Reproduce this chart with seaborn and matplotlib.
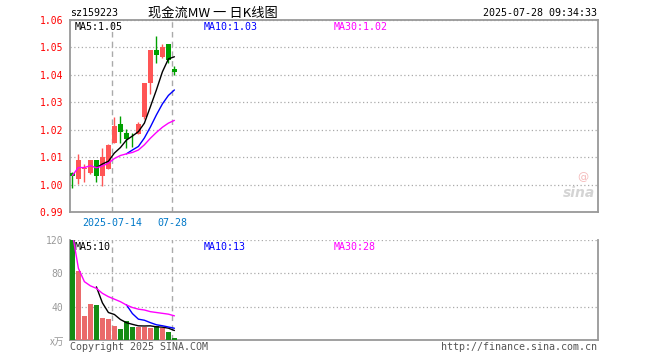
"""Sina style daily K-line chart for sz159223"""
import numpy as np
import pandas as pd
import matplotlib
matplotlib.use('Agg')
import matplotlib.pyplot as plt
import seaborn as sns

#Data
dates = ['07-03', '07-04', '07-07', '07-08', '07-09', '07-10', '07-11', '07-14', '07-15',
         '07-16', '07-17', '07-18', '07-21', '07-22', '07-23', '07-24', '07-25', '07-28']
open_px = [1.0043, 1.0021, 1.0055, 1.0043, 1.0091, 1.0030, 1.0058, 1.0152, 1.0221,
           1.0189, 1.0175, 1.0184, 1.0245, 1.0372, 1.0491, 1.0465, 1.0513, 1.0421]
close_px = [1.0033, 1.0091, 1.0061, 1.0091, 1.0030, 1.0101, 1.0146, 1.0213, 1.0193,
            1.0165, 1.0172, 1.0221, 1.0370, 1.0491, 1.0473, 1.0501, 1.0455, 1.0412]
high_px = [1.0045, 1.0111, 1.0075, 1.0091, 1.0091, 1.0135, 1.0148, 1.0245, 1.0250,
           1.0201, 1.0189, 1.0229, 1.0370, 1.0491, 1.0543, 1.0513, 1.0513, 1.0433]
low_px = [0.9988, 1.0001, 1.0010, 1.0038, 1.0010, 0.9995, 1.0055, 1.0150, 1.0150,
          1.0132, 1.0138, 1.0184, 1.0238, 1.0330, 1.0443, 1.0461, 1.0443, 1.0400]

ma5 = [np.nan] * 4 + [1.0061, 1.0075, 1.0085, 1.0115, 1.0135, 1.0162, 1.0177, 1.0193,
                      1.0224, 1.0284, 1.0345, 1.0411, 1.0458, 1.0466]
ma10 = [np.nan] * 9 + [1.0112, 1.0126, 1.0139, 1.0170, 1.0210, 1.0254, 1.0294, 1.0325, 1.0345]
ma30 = [1.0033, 1.0062, 1.0062, 1.0069, 1.0061, 1.0068, 1.0078, 1.0095, 1.0106,
        1.0112, 1.0117, 1.0126, 1.0145, 1.0169, 1.0190, 1.0209, 1.0224, 1.0234]

volume = [128, 83, 29, 43, 42, 26, 25, 17, 13, 23, 16, 16, 16, 14, 17, 14, 10, 2]
vol_ma5 = [np.nan] * 4 + [63.8, 44.6, 33, 30.6, 24.6, 20.8, 18.8, 17, 16.8, 17, 15.8,
                          15.4, 14.2, 11.4]
vol_ma10 = [np.nan] * 9 + [42.3, 31.7, 25, 23.7, 20.8, 18.3, 17.1, 15.6, 14.1]
vol_ma30 = [128, 86, 70, 65, 62, 56, 52, 49, 46, 42, 39, 37, 36, 34, 33, 32, 31, 29]

price_ticks = [0.99, 1.00, 1.01, 1.02, 1.03, 1.04, 1.05, 1.06]
vol_ticks = [40, 80, 120]

RED = '#ff5555'
GREEN = '#00a000'
GRID = '#aaaaaa'
FRAME = '#999999'

sns.set_style('white')
plt.rcParams['font.family'] = ['DejaVu Sans Mono', 'Noto Sans CJK SC']

df = pd.DataFrame({'date': dates, 'open': open_px, 'close': close_px,
                   'high': high_px, 'low': low_px, 'volume': volume,
                   'ma5': ma5, 'ma10': ma10, 'ma30': ma30,
                   'vma5': vol_ma5, 'vma10': vol_ma10, 'vma30': vol_ma30})
df['x'] = np.arange(len(df))
df['up'] = np.where(df['close'] >= df['open'], 'up', 'down')
palette = {'up': RED, 'down': GREEN}

fig = plt.figure(figsize=(6.6, 3.6), dpi=100)
ax1 = fig.add_axes([70 / 660, 1 - 212 / 360, 528 / 660, 192 / 360])
ax2 = fig.add_axes([70 / 660, 1 - 340 / 360, 528 / 660, 100 / 360])

xlim = (-0.4, 87.6)
dash_x = [df.index[df['date'] == d][0] - 0.33 for d in ['07-14', '07-28']]

#Price panel: candles
colors = [palette[u] for u in df['up']]
ax1.vlines(df['x'], df['low'], df['high'], colors=colors, linewidth=1, zorder=3)
body_bottom = np.minimum(df['open'], df['close'])
body_height = np.maximum(np.abs(df['close'] - df['open']), 0.00015)
ax1.bar(df['x'], body_height, bottom=body_bottom, width=0.75, color=colors,
        linewidth=0, zorder=4)

#Moving averages
for col, c in [('ma5', 'black'), ('ma10', '#0000ff'), ('ma30', '#ff00ff')]:
    sns.lineplot(data=df, x='x', y=col, color=c, linewidth=1, ax=ax1, zorder=5)

ax1.set_xlim(*xlim)
ax1.set_ylim(0.99, 1.06)
ax1.set_yticks(price_ticks)
ax1.set_yticklabels([f'{t:.2f}' for t in price_ticks])
ax1.tick_params(axis='y', length=0, pad=5, labelsize=7, labelcolor='#ff0000')
ax1.set_xticks(dash_x)
ax1.set_xticklabels(['2025-07-14', '07-28'])
ax1.tick_params(axis='x', length=0, pad=4, labelsize=7.2, labelcolor='#0078c8')
ax1.set_xlabel('')
ax1.set_ylabel('')
ax1.grid(axis='y', color=GRID, linestyle=(0, (1, 2)), linewidth=0.9)
ax1.grid(axis='x', visible=False)
for x in dash_x:
    ax1.axvline(x, color=GRID, linestyle=(0, (4, 3)), linewidth=1, zorder=1)
for s in ax1.spines.values():
    s.set_color(FRAME)
    s.set_linewidth(1.3)

ax1.text(0.008, 0.965, 'MA5:1.05', transform=ax1.transAxes, fontsize=7.2,
         color='black', va='center')
ax1.text(0.254, 0.965, 'MA10:1.03', transform=ax1.transAxes, fontsize=7.2,
         color='#0000ff', va='center')
ax1.text(0.500, 0.965, 'MA30:1.02', transform=ax1.transAxes, fontsize=7.2,
         color='#ff00ff', va='center')
ax1.text(0.995, 0.06, 'sina', transform=ax1.transAxes, fontsize=10,
         color='#d4d4d4', ha='right', va='bottom', style='italic',
         fontweight='bold', family='DejaVu Sans')
ax1.text(0.982, 0.155, '@', transform=ax1.transAxes, fontsize=8,
         color='#f4b8b8', ha='right', va='bottom', family='DejaVu Sans')

#Volume panel
sns.barplot(data=df, x='x', y='volume', hue='up', palette=palette, dodge=False,
            width=0.75, native_scale=True, legend=False, linewidth=0, ax=ax2,
            zorder=3)
for col, c in [('vma5', 'black'), ('vma10', '#0000ff'), ('vma30', '#ff00ff')]:
    sns.lineplot(data=df, x='x', y=col, color=c, linewidth=1, ax=ax2, zorder=5)

ax2.set_xlim(*xlim)
ax2.set_ylim(0, 120)
ax2.set_yticks(vol_ticks)
ax2.set_yticklabels([str(t) for t in vol_ticks])
ax2.tick_params(axis='y', length=0, pad=5, labelsize=7, labelcolor='#999999')
ax2.set_xticks([])
ax2.set_xlabel('')
ax2.set_ylabel('')
ax2.grid(axis='y', color=GRID, linestyle=(0, (1, 2)), linewidth=0.9)
ax2.grid(axis='x', visible=False)
for x in dash_x:
    ax2.axvline(x, color=GRID, linestyle=(0, (4, 3)), linewidth=1, zorder=1)
ax2.spines['top'].set_visible(False)
for k in ['left', 'right', 'bottom']:
    ax2.spines[k].set_color(FRAME)
    ax2.spines[k].set_linewidth(1.3)

ax2.text(0.008, 0.93, 'MA5:10', transform=ax2.transAxes, fontsize=7.2,
         color='black', va='center')
ax2.text(0.254, 0.93, 'MA10:13', transform=ax2.transAxes, fontsize=7.2,
         color='#0000ff', va='center')
ax2.text(0.500, 0.93, 'MA30:28', transform=ax2.transAxes, fontsize=7.2,
         color='#ff00ff', va='center')

#Header and footer texts
fig.text(70 / 660, 1 - 13 / 360, 'sz159223', fontsize=7.2, color='black',
         va='center', ha='left')
fig.text(213 / 660, 1 - 13 / 360, '现金流MW 一 日K线图', fontsize=9.5, color='black',
         va='center', ha='center', family=['Noto Sans CJK SC', 'DejaVu Sans'])
fig.text(597 / 660, 1 - 13 / 360, '2025-07-28 09:34:33', fontsize=7.2,
         color='black', va='center', ha='right')
fig.text(64 / 660, 1 - 342 / 360, 'x万', fontsize=7, color='#999999',
         va='center', ha='right', family=['Noto Sans CJK SC', 'DejaVu Sans'])
fig.text(70 / 660, 1 - 347 / 360, 'Copyright 2025 SINA.COM', fontsize=7.2,
         color='#555555', va='center', ha='left')
fig.text(597 / 660, 1 - 347 / 360, 'http://finance.sina.com.cn', fontsize=7.2,
         color='#555555', va='center', ha='right')

fig.savefig('out.png', dpi=100)
